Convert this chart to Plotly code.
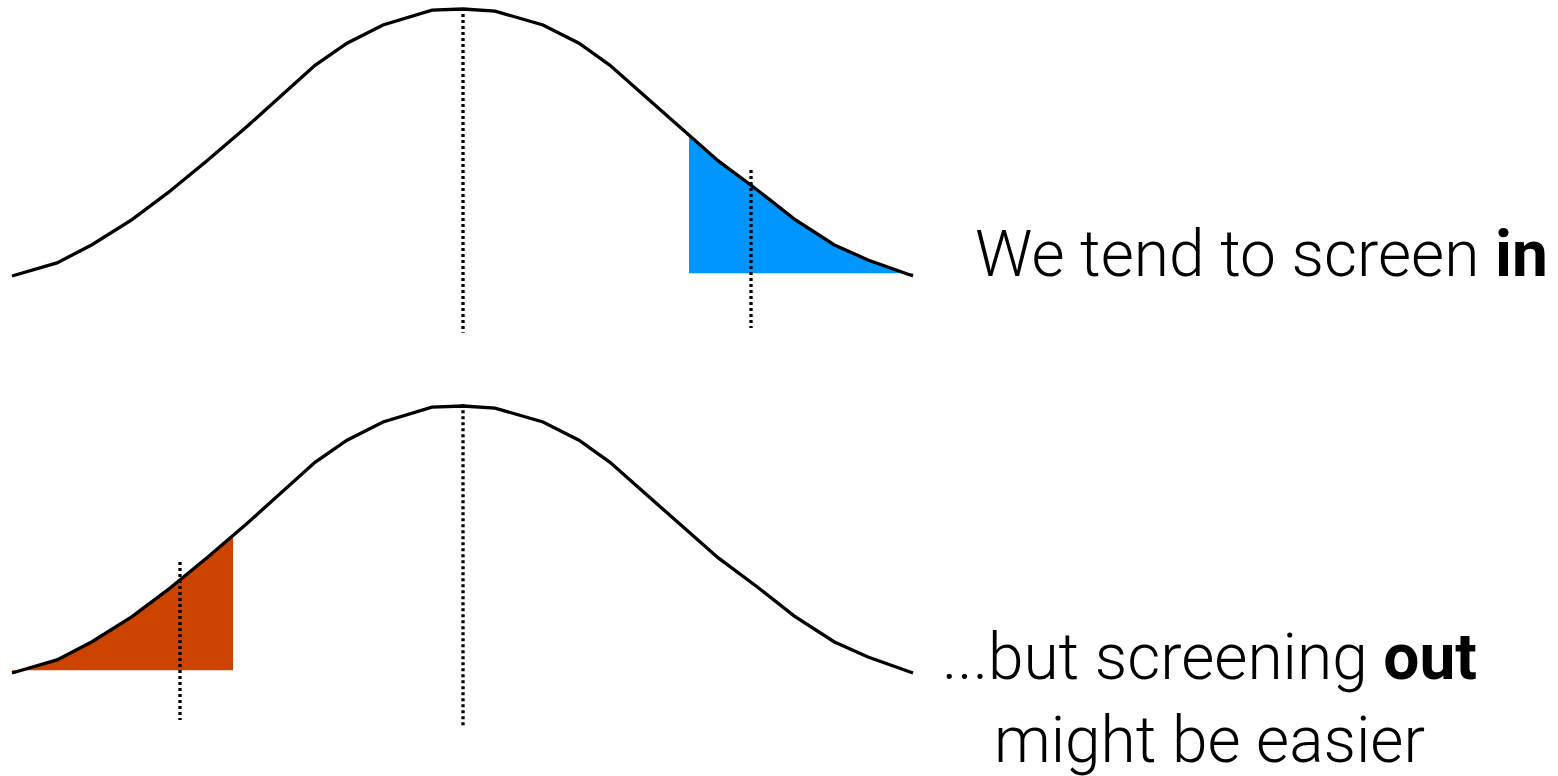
import numpy as np
import plotly.graph_objects as go

# bell curve (x in sd-like units, height relative to peak)
curve_x = [-4.51, -4.06, -3.71, -3.31, -2.95, -2.56, -2.16, -1.82, -1.48, -1.16, -0.80, -0.31,
           0.0, 0.32, 0.80, 1.16, 1.47, 1.82, 2.17, 2.55, 2.94, 3.31, 3.71, 4.05, 4.50]
curve_y = [0.0, 0.049, 0.117, 0.211, 0.312, 0.432, 0.560, 0.673, 0.789, 0.872, 0.940, 0.996,
           1.0, 0.992, 0.940, 0.872, 0.789, 0.673, 0.556, 0.432, 0.323, 0.214, 0.117, 0.060, 0.0]

mean_x = 0.0
shade_in_from = 2.26     # blue tail starts here
shade_out_to = -2.30     # orange tail ends here
cut_in = 2.88            # dotted threshold, top
cut_out = -2.83          # dotted threshold, bottom

text_in = "We tend to screen <b>in</b>"
text_out = "...but screening <b>out</b><br>might be easier"

BLUE = "#0096FF"
ORANGE = "#CC4400"

cx = np.array(curve_x)
cy = np.array(curve_y)


def tail(lo, hi, base=0.01):
    # polygon under the curve between lo and hi
    inside = (cx > lo) & (cx < hi)
    xs = [lo] + cx[inside].tolist() + [hi]
    ys = [np.interp(lo, cx, cy)] + cy[inside].tolist() + [np.interp(hi, cx, cy)]
    return xs + [hi, lo, lo], ys + [base, base, ys[0]]


fig = go.Figure()

def add_panel(yaxis, shade, color, cut, mean_span, cut_span):
    sx, sy = shade
    fig.add_trace(go.Scatter(x=sx, y=sy, fill="toself", fillcolor=color, mode="none",
                             yaxis=yaxis, hoverinfo="skip"))
    fig.add_trace(go.Scatter(x=curve_x, y=curve_y, mode="lines",
                             line=dict(color="black", width=3.3), yaxis=yaxis))
    fig.add_trace(go.Scatter(x=[mean_x, mean_x], y=mean_span, mode="lines",
                             line=dict(color="black", width=3.3, dash="3px,3px"), yaxis=yaxis))
    fig.add_trace(go.Scatter(x=[cut, cut], y=cut_span, mode="lines",
                             line=dict(color="black", width=3.3, dash="3px,3px"), yaxis=yaxis))


add_panel("y", tail(shade_in_from, curve_x[-1]), BLUE, cut_in, [1.004, -0.213], [0.397, -0.195])
add_panel("y2", tail(curve_x[0], shade_out_to), ORANGE, cut_out, [1.007, -0.206], [0.416, -0.176])

font = dict(family="Roboto", size=64, color="black", weight=300)
fig.add_annotation(text=text_in, xref="paper", yref="paper", x=973 / 1558, y=1 - 255 / 776,
                   xanchor="left", yanchor="middle", showarrow=False, font=font)
fig.add_annotation(text=text_out, xref="paper", yref="paper", x=1209 / 1558, y=1 - 699 / 776,
                   xanchor="center", yanchor="middle", align="center", showarrow=False, font=font)

hidden = dict(visible=False, showgrid=False, zeroline=False, fixedrange=True)
fig.update_layout(
    width=1558, height=776,
    margin=dict(l=0, r=0, t=0, b=0),
    paper_bgcolor="white", plot_bgcolor="white",
    showlegend=False,
    xaxis=dict(range=[-4.63, 10.95], **hidden),
    yaxis=dict(domain=[0.5, 1], range=[-0.4195, 1.0337], **hidden),
    yaxis2=dict(domain=[0, 0.5], range=[-0.3858, 1.0674], **hidden),
)

fig.write_html("out.html", config={"displayModeBar": False},
               post_script="document.body.style.margin='0';document.body.style.overflow='hidden';")
